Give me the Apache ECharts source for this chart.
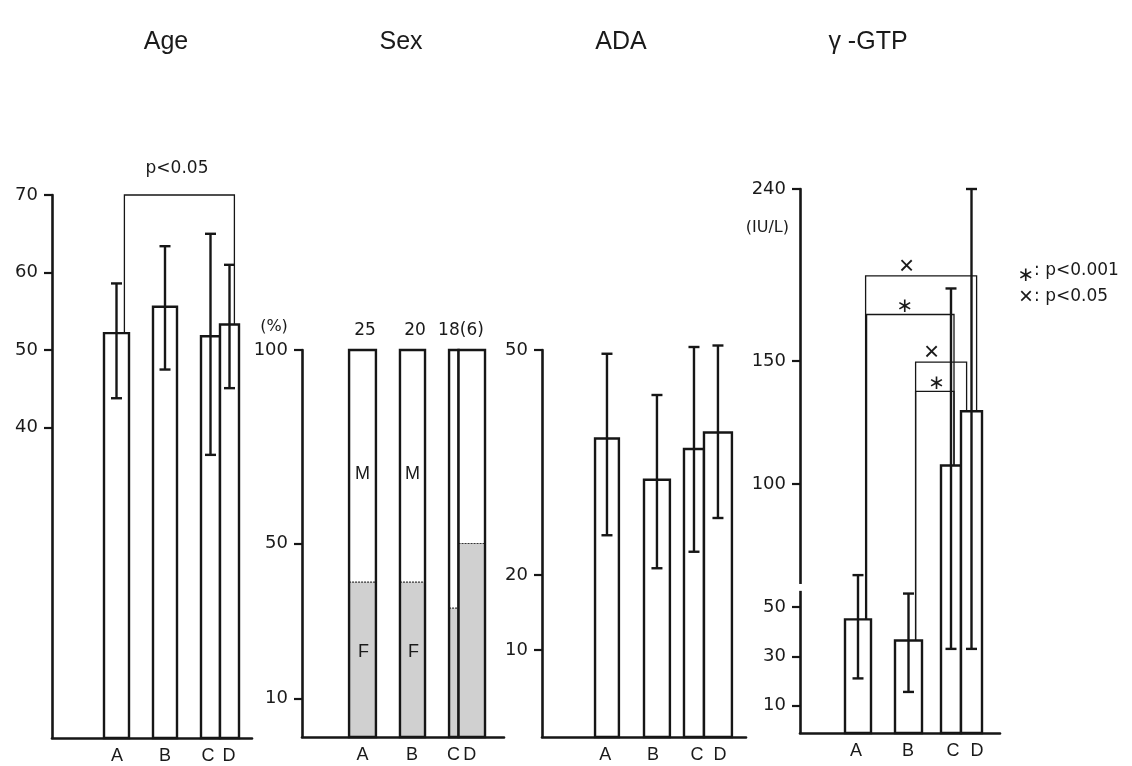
<!DOCTYPE html>
<html>
<head>
<meta charset="utf-8">
<script src="https://cdn.jsdelivr.net/npm/echarts@6/dist/echarts.min.js"></script>
<style>
html,body{margin:0;padding:0;background:#fff;}
#c{width:1132px;height:766px;}
</style>
</head>
<body>
<div id="c"></div>
<script>
// ================= DATA =================
const groups = ['A', 'B', 'C', 'D'];

// Age (years): mean and error-bar ends
const ageMean = [52.2, 55.6, 51.8, 53.3];
const ageLow  = [43.8, 47.5, 36.5, 45.1];
const ageHigh = [58.6, 63.4, 65.0, 61.0];

// Sex: number of cases and female percentage
const sexN = ['25', '20', '18(6)'];
const sexFemalePct = [40, 40, 33.3, 50];

// ADA
const adaMean = [38.2, 32.7, 36.8, 39.0];
const adaLow  = [25.3, 20.9, 23.1, 27.6];
const adaHigh = [49.5, 44.0, 50.4, 50.6];

// gamma-GTP (IU/L)
const gtpMean = [45, 36.4, 107.6, 129.6];
const gtpLow  = [21, 15.5, 33, 33];
const gtpHigh = [63, 55.5, 188, 240];

// tick labels
const ageTicks = [40, 50, 60, 70];
const sexTicks = [10, 50, 100];
const adaTicks = [10, 20, 50];
const gtpTicks = [10, 30, 50, 100, 150, 240];

// significance brackets
const ageSig = [{from: 0, to: 3, level: 70, text: 'p<0.05'}];
const gtpSig = [
  {from: 0, to: 3, level: 194.6, mark: '×'},
  {from: 0, to: 2, level: 174.4, mark: '∗'},
  {from: 1, to: 3, level: 149.6, mark: '×'},
  {from: 1, to: 2, level: 137.7, mark: '∗'}
];

// ================= LAYOUT =================
const ink = '#161616';
const tickFont = 'DejaVu Sans';
const textFont = 'Liberation Sans';
// bar edges in % of each panel's x-axis length
const barLayout = {
  age: [[26, 38.5], [50.5, 62.5], [74.5, 84], [84, 93.5]],
  sex: [[23.3, 36.6], [48.5, 60.9], [72.8, 77.5], [77.5, 90.6]],
  ada: [[26, 37.7], [50, 62.7], [69.6, 79.4], [79.4, 93.1]],
  gtp: [[22.5, 35.5], [47.5, 61], [70.5, 80.5], [80.5, 91]]
};
const labelPos = {
  age: [32.5, 56.5, 78, 88.5],
  sex: [30, 54.5, 75, 83],
  ada: [31, 54.4, 76, 87.3],
  gtp: [28, 54, 76.5, 88.5]
};
const ageBracketX = [[36.2, 91.2]];
const ageTextX = 62.5;
const gtpBracketX = [[32.8, 88.3], [33.3, 77], [57.8, 83.3], [57.8, 77]];
const gtpMarkX = [53.3, 52.5, 65.8, 68.3];
const sexNPos = [31.2, 56, 78.7];
const gtpAxisGap = [56.6, 59.4];

// gamma-GTP axis: compressed above 150
function gtpPos(v) { return v <= 150 ? v : 150 + (v - 150) * 70 / 90; }
function gtpReal(p) { return p <= 150 ? p : 150 + (p - 150) * 90 / 70; }

const panels = [
  {key: 'age', l: 52, r: 252, t: 195, b: 738, min: 0, max: 70, ticks: ageTicks},
  {key: 'sex', l: 302, r: 504, t: 350, b: 737, min: 0, max: 100, ticks: sexTicks},
  {key: 'ada', l: 542, r: 746, t: 350, b: 737, min: -1.6, max: 50, ticks: adaTicks},
  {key: 'gtp', l: 800, r: 1000, t: 189, b: 733, min: -1.2, max: 220, ticks: gtpTicks.map(gtpPos)}
];

const grids = panels.map(p => ({left: p.l, top: p.t, width: p.r - p.l, height: p.b - p.t, containLabel: false}));
const xAxes = panels.map((p, i) => ({
  type: 'value', gridIndex: i, min: 0, max: 100,
  axisLine: {show: true, onZero: false, lineStyle: {color: ink, width: 2.6}},
  axisTick: {show: false},
  splitLine: {show: false},
  axisLabel: {
    customValues: labelPos[p.key], margin: 9,
    color: '#1a1a1a', fontSize: 18, fontFamily: textFont,
    formatter: v => groups[labelPos[p.key].indexOf(v)] || ''
  }
}));
const yAxes = panels.map((p, i) => ({
  type: 'value', gridIndex: i, min: p.min, max: p.max,
  axisLine: {show: true, onZero: false, lineStyle: {color: ink, width: 2.6}},
  axisTick: {show: true, customValues: p.ticks, length: 8, lineStyle: {color: ink, width: 2.2}},
  splitLine: {show: false},
  axisLabel: {
    customValues: p.ticks, margin: 14,
    color: '#1a1a1a', fontSize: 18, fontFamily: tickFont,
    formatter: v => p.key === 'gtp' ? String(Math.round(gtpReal(v))) : String(v)
  }
}));

function errBarSeries(idx, key, mean, lo, hi, tf) {
  tf = tf || (v => v);
  const lay = barLayout[key];
  const data = mean.map((m, i) => [lay[i][0], lay[i][1], tf(m), tf(lo[i]), tf(hi[i])]);
  return {
    type: 'custom', xAxisIndex: idx, yAxisIndex: idx, data: data, silent: true, z: 3,
    renderItem: function (params, api) {
      const cs = params.coordSys;
      const v = api.value(2);
      const x0 = api.coord([api.value(0), v])[0];
      const x1 = api.coord([api.value(1), v])[0];
      const yTop = api.coord([api.value(0), v])[1];
      const base = cs.y + cs.height;
      const xc = (x0 + x1) / 2;
      const yHi = api.coord([api.value(0), api.value(4)])[1];
      const yLo = api.coord([api.value(0), api.value(3)])[1];
      const cap = 5.5;
      const st = {stroke: ink, lineWidth: 2.4};
      return {type: 'group', children: [
        {type: 'rect', shape: {x: x0, y: yTop, width: x1 - x0, height: base - yTop}, style: {fill: '#fff', stroke: ink, lineWidth: 2.4}},
        {type: 'line', shape: {x1: xc, y1: yHi, x2: xc, y2: yLo}, style: st},
        {type: 'line', shape: {x1: xc - cap, y1: yHi, x2: xc + cap, y2: yHi}, style: st},
        {type: 'line', shape: {x1: xc - cap, y1: yLo, x2: xc + cap, y2: yLo}, style: st}
      ]};
    }
  };
}

function bracketSeries(idx, sig, bx, mean, tf, markX, isText) {
  tf = tf || (v => v);
  const data = sig.map((s, i) => [bx[i][0], bx[i][1], tf(s.level), tf(mean[s.from]), tf(mean[s.to]), markX[i], i]);
  return {
    type: 'custom', xAxisIndex: idx, yAxisIndex: idx, data: data, silent: true, z: 4,
    renderItem: function (params, api) {
      const pL = api.coord([api.value(0), api.value(2)]);
      const pR = api.coord([api.value(1), api.value(2)]);
      const yL = api.coord([api.value(0), api.value(3)])[1];
      const yR = api.coord([api.value(1), api.value(4)])[1];
      const pm = api.coord([api.value(5), api.value(2)]);
      const s = sig[api.value(6)];
      const children = [
        {type: 'polyline', shape: {points: [[pL[0], yL], [pL[0], pL[1]], [pR[0], pR[1]], [pR[0], yR]]},
         style: {stroke: ink, lineWidth: 1.3, fill: null}}
      ];
      if (isText) {
        children.push({type: 'text', x: pm[0], y: pm[1] - 26,
          style: {text: s.text, fill: '#1a1a1a', fontSize: 17, fontFamily: tickFont, align: 'center', verticalAlign: 'middle'}});
      } else {
        const star = s.mark === '∗';
        children.push({type: 'text', x: pm[0], y: pm[1] - (star ? 8 : 9),
          style: {text: s.mark, fill: '#1a1a1a', fontSize: star ? 20 : 26, fontFamily: star ? 'DejaVu Sans' : textFont, fontWeight: 'normal', align: 'center', verticalAlign: 'middle'}});
      }
      return {type: 'group', children: children};
    }
  };
}

const sexSeries = {
  type: 'custom', xAxisIndex: 1, yAxisIndex: 1, silent: true, z: 3,
  data: sexFemalePct.map((f, i) => [barLayout.sex[i][0], barLayout.sex[i][1], f, i]),
  renderItem: function (params, api) {
    const cs = params.coordSys;
    const x0 = api.coord([api.value(0), 100])[0];
    const x1 = api.coord([api.value(1), 100])[0];
    const yTop = api.coord([api.value(0), 100])[1];
    const yF = api.coord([api.value(0), api.value(2)])[1];
    const base = cs.y + cs.height;
    const i = api.value(3);
    const xc = (x0 + x1) / 2;
    const ch = [
      {type: 'rect', shape: {x: x0, y: yTop, width: x1 - x0, height: base - yTop}, style: {fill: '#fff'}},
      {type: 'rect', shape: {x: x0, y: yF, width: x1 - x0, height: base - yF}, style: {fill: '#d0d0d0'}},
      {type: 'line', shape: {x1: x0, y1: yF, x2: x1, y2: yF}, style: {stroke: '#333', lineWidth: 1.2, lineDash: [2, 1]}},
      {type: 'rect', shape: {x: x0, y: yTop, width: x1 - x0, height: base - yTop}, style: {fill: null, stroke: ink, lineWidth: 2.4}}
    ];
    if (i < 2) {
      const pm = api.coord([api.value(0), 68]);
      const pf = api.coord([api.value(0), 22]);
      ch.push({type: 'text', x: xc, y: pm[1], style: {text: 'M', fill: '#1a1a1a', fontSize: 18, fontFamily: textFont, align: 'center', verticalAlign: 'middle'}});
      ch.push({type: 'text', x: xc + 1, y: pf[1], style: {text: 'F', fill: '#1a1a1a', fontSize: 18, fontFamily: textFont, align: 'center', verticalAlign: 'middle'}});
    }
    return {type: 'group', children: ch};
  }
};

const sexCountSeries = {
  type: 'custom', xAxisIndex: 1, yAxisIndex: 1, silent: true, z: 4,
  data: sexN.map((n, i) => [sexNPos[i], 100, i]),
  renderItem: function (params, api) {
    const p = api.coord([api.value(0), api.value(1)]);
    return {type: 'text', x: p[0], y: p[1] - 19,
      style: {text: sexN[api.value(2)], fill: '#1a1a1a', fontSize: 17, fontFamily: tickFont, align: 'center', verticalAlign: 'middle'}};
  }
};

const gtpGapSeries = {
  type: 'custom', xAxisIndex: 3, yAxisIndex: 3, silent: true, z: 10,
  data: [[0, gtpAxisGap[0], gtpAxisGap[1]]],
  renderItem: function (params, api) {
    const a = api.coord([api.value(0), api.value(2)]);
    const b = api.coord([api.value(0), api.value(1)]);
    return {type: 'rect', shape: {x: a[0] - 3, y: a[1], width: 6, height: b[1] - a[1]}, style: {fill: '#fff'}};
  }
};

function txt(text, x, y, size, family, align) {
  return {type: 'text', x: x, y: y, silent: true,
    style: {text: text, fill: '#1a1a1a', fontSize: size, fontFamily: family, align: align || 'center', verticalAlign: 'middle'}};
}

const option = {
  animation: false,
  backgroundColor: '#fff',
  grid: grids,
  xAxis: xAxes,
  yAxis: yAxes,
  graphic: [
    txt('Age', 166, 42, 25, textFont),
    txt('Sex', 401, 42, 25, textFont),
    txt('ADA', 621, 42, 25, textFont),
    txt('γ -GTP', 868, 42, 25, textFont),
    txt('(%)', 274, 327, 16, tickFont),
    txt('(IU/L)', 789, 228, 16, tickFont, 'right'),
    txt('∗', 1026, 276, 20, 'DejaVu Sans'),
    txt(': p<0.001', 1034, 271, 17, tickFont, 'left'),
    txt('×', 1026, 297, 24, textFont),
    txt(': p<0.05', 1034, 297, 17, tickFont, 'left')
  ],
  series: [
    errBarSeries(0, 'age', ageMean, ageLow, ageHigh),
    bracketSeries(0, ageSig, ageBracketX, ageMean, null, [ageTextX], true),
    sexSeries,
    sexCountSeries,
    errBarSeries(2, 'ada', adaMean, adaLow, adaHigh),
    errBarSeries(3, 'gtp', gtpMean, gtpLow, gtpHigh, gtpPos),
    bracketSeries(3, gtpSig, gtpBracketX, gtpMean, gtpPos, gtpMarkX, false),
    gtpGapSeries
  ]
};

const chart = echarts.init(document.getElementById('c'), null, {renderer: 'canvas'});
chart.setOption(option);
</script>
</body>
</html>
